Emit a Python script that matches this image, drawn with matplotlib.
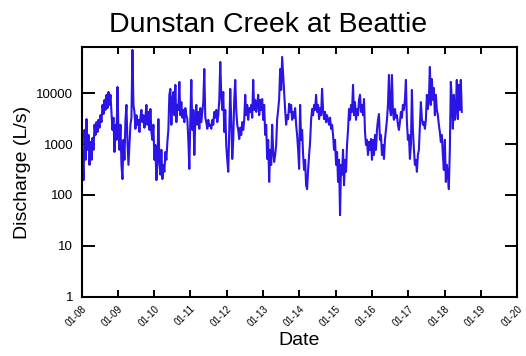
import matplotlib
matplotlib.use("Agg")
import matplotlib.pyplot as plt
import matplotlib.dates as mdates
import matplotlib.ticker as mticker
import pandas as pd

plt.rcParams['font.family'] = ['Liberation Sans', 'DejaVu Sans']

title = "Dunstan Creek at Beattie"
start_date = "2008-01-01"
end_date = "2018-06-24"

# discharge (L/s), read roughly every 10 days from the chart
flow = [
    130, 610, 195, 1900, 490, 3100, 770, 1510, 390, 1100, 490, 1320, 770, 2400, 1510, 2700, 1730, 3000, 2100, 3700,
    2700, 5900, 3900, 7400, 4700, 9300, 5100, 10600, 5900, 9300, 4300, 1900, 3300, 700, 2400, 1210, 13300, 1900, 770, 2400,
    390, 205, 1210, 490, 3000, 5900, 1100, 390, 960, 2400, 3300, 71100, 5900, 4300, 2000, 3700, 2400, 3000, 1730, 3300,
    4700, 2700, 3700, 2100, 3300, 5900, 2400, 4300, 1900, 4900, 1730, 1210, 2400, 490, 960, 195, 390, 3100, 490, 250,
    770, 205, 390, 285, 700, 490, 1100, 1900, 9300, 12200, 2400, 7400, 10600, 3700, 14600, 2700, 5900, 4700, 16700, 3700,
    6700, 3300, 4700, 2700, 5100, 3700, 3100, 1210, 325, 3000, 18300, 1900, 4700, 610, 3000, 5900, 2400, 4300, 2000, 5100,
    2700, 4300, 6700, 30000, 3300, 2700, 2000, 3000, 2300, 2400, 2000, 3000, 2400, 4300, 3300, 4700, 2700, 3700, 7400, 41300,
    9300, 4700, 10600, 1730, 4700, 960, 490, 285, 1900, 12200, 3000, 510, 1210, 7400, 18300, 4700, 2400, 1900, 1260, 2100,
    1510, 2700, 1900, 3000, 9300, 3700, 5900, 3000, 5100, 4300, 5900, 3300, 18300, 4700, 7400, 4300, 5900, 9300, 3700, 7400,
    4700, 7700, 3000, 5900, 1510, 2400, 510, 1210, 180, 770, 390, 2400, 700, 445, 610, 960, 3100, 4700, 7700, 30000,
    11600, 51800, 22900, 9300, 4700, 2400, 3700, 3100, 6200, 4300, 5900, 3000, 4300, 3300, 5100, 2400, 1510, 770, 325, 5900,
    1210, 1900, 610, 310, 490, 155, 130, 310, 610, 1100, 3000, 4900, 3700, 5900, 4700, 9300, 4300, 5900, 3100, 5100,
    3700, 12200, 4700, 3100, 4300, 2700, 3700, 3000, 2400, 3300, 2000, 2400, 1510, 770, 1210, 390, 700, 180, 490, 40,
    390, 250, 770, 155, 490, 285, 960, 1900, 4900, 3000, 5900, 4300, 14600, 3700, 6700, 3000, 4900, 3700, 7400, 9300,
    4300, 5900, 3700, 7700, 1730, 960, 1210, 610, 1100, 770, 1260, 490, 1210, 610, 1510, 770, 1900, 3000, 3900, 1210,
    1510, 610, 960, 510, 1210, 1900, 3000, 5900, 22900, 4900, 3700, 22900, 4300, 3000, 4900, 3300, 3700, 2400, 1900, 2700,
    4300, 3300, 5900, 4700, 7400, 18300, 2700, 1210, 1510, 510, 960, 11600, 1900, 800, 390, 490, 285, 610, 770, 2400,
    6700, 3100, 2400, 2700, 2000, 3000, 9300, 4900, 7400, 32900, 5900, 19100, 7400, 12700, 3700, 9300, 4700, 3700, 2400, 1730,
    1100, 1510, 610, 310, 1210, 180, 390, 250, 130, 770, 16700, 7400, 2000, 9300, 3000, 4700, 18300, 3100, 14600, 4700,
    18300, 4300,
]

year_ticks = pd.date_range("2008-01-01", "2020-01-01", freq="YS")
y_ticks = [1, 10, 100, 1000, 10000]

dates = pd.date_range(start_date, end_date, periods=len(flow))

fig = plt.figure(figsize=(5.26, 3.56), dpi=100)
ax = fig.add_axes([0.155, 0.167, 0.828, 0.700])

ax.plot(dates, flow, color='#2b14e6', linewidth=1.5)

ax.set_yscale('log')
ax.set_ylim(1, 80000)
ax.set_xlim(year_ticks[0], year_ticks[-1])

ax.set_yticks(y_ticks)
ax.yaxis.set_major_formatter(mticker.FuncFormatter(lambda v, p: f"{int(v)}"))
ax.yaxis.set_minor_locator(mticker.NullLocator())

ax.set_xticks(year_ticks)
ax.xaxis.set_major_formatter(mdates.DateFormatter("%m-%y"))
plt.setp(ax.get_xticklabels(), rotation=45, ha='right', va='top',
         rotation_mode='anchor', fontsize=7)

# ticks inside on all four sides
ax.tick_params(axis='y', which='major', direction='in', length=9, width=1.4,
               left=True, right=True, labelsize=9.5, pad=6)
ax.tick_params(axis='x', which='major', direction='in', length=5, width=1.4,
               top=True, bottom=True, pad=5)
for s in ax.spines.values():
    s.set_linewidth(1.5)

ax.set_xlabel("Date", fontsize=14, labelpad=3)
ax.set_ylabel("Discharge (L/s)", fontsize=14, labelpad=4)
fig.text(0.51, 0.91, title, ha='center', va='baseline', fontsize=20.5)

fig.savefig("out.png", dpi=100)
